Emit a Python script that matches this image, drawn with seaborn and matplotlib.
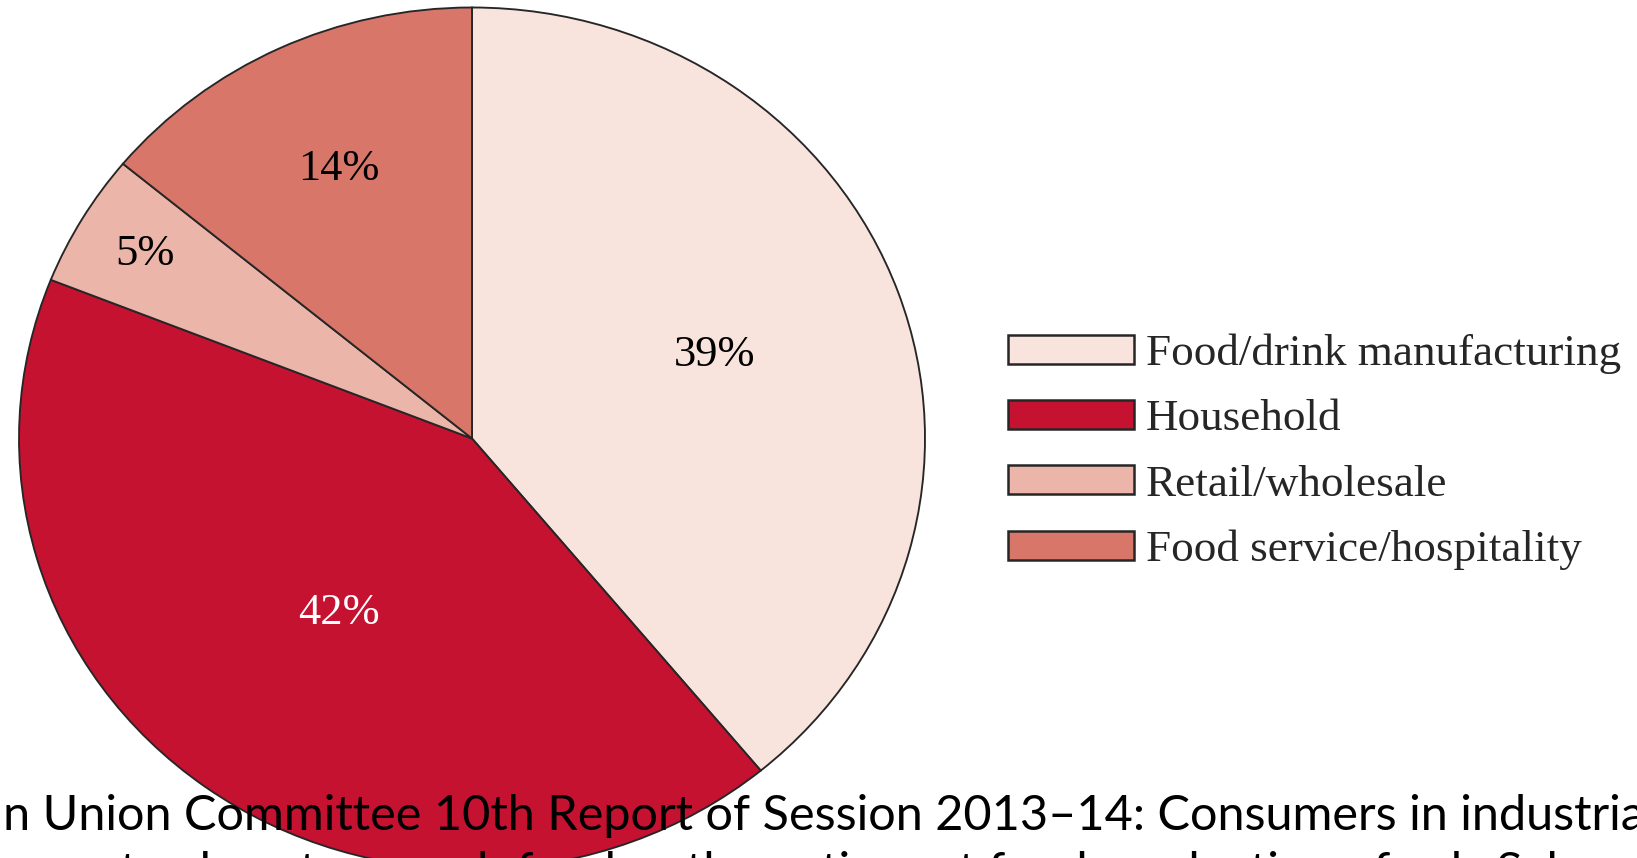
import matplotlib
matplotlib.use("Agg")
import matplotlib.pyplot as plt
import seaborn as sns
import numpy as np
from matplotlib.patches import Patch

# ---- data ----
categories = ["Food/drink manufacturing", "Household", "Retail/wholesale", "Food service/hospitality"]
shares = [39, 42, 5, 14]
caption_line1 = "European Union Committee 10th Report of Session 2013\u201314: Consumers in industrialised"
caption_line2 = "countries waste almost as much food as the entire net food production of sub-Saharan Africa"

# ---- style ----
colors = ["#F8E3DD", "#C41230", "#EBB5A9", "#D8766A"]
text_colors = ["black", "white", "black", "black"]
label_r = [0.57, 0.50, 0.84, 0.69]

sns.set_theme(style="white")
plt.rcParams["font.family"] = ["Liberation Serif", "DejaVu Serif"]

W, H = 1637, 858
fig = plt.figure(figsize=(W / 100, H / 100), dpi=100)
fig.patch.set_facecolor("white")

cx, cy, rx, ry = 472, 858 - 438.5, 453, 431
ax = fig.add_axes([(cx - rx) / W, (cy - ry) / H, 2 * rx / W, 2 * ry / H])

wedges, texts, autotexts = ax.pie(
    shares, colors=colors, startangle=90, counterclock=False,
    autopct="%.0f%%", radius=1,
    wedgeprops=dict(edgecolor="#262626", linewidth=1.35),
    textprops=dict(fontsize=32, family=["Liberation Serif", "DejaVu Serif"]),
)
ax.set_aspect("auto")
ax.set_xlim(-1, 1)
ax.set_ylim(-1, 1)
ax.axis("off")

for w, t, r, c in zip(wedges, autotexts, label_r, text_colors):
    mid = np.deg2rad((w.theta1 + w.theta2) / 2)
    t.set_position((r * np.cos(mid), r * np.sin(mid)))
    t.set_color(c)
    t.set_ha("center")
    t.set_va("center")

handles = [Patch(facecolor=c, edgecolor="#262626", linewidth=1.8) for c in colors]
leg = fig.legend(
    handles, categories, loc="center left",
    bbox_to_anchor=(1008 / W, (858 - 452) / H),
    frameon=False, borderpad=0, borderaxespad=0,
    handlelength=2.8, handleheight=0.62,
    handletextpad=0.25, labelspacing=0.56,
    prop=dict(family=["Liberation Serif", "DejaVu Serif"], size=32.5),
)

# caption (cut off at the figure edges, as in the reference)
cap_font = dict(fontsize=35, family=["Lato", "DejaVu Sans"])
renderer = fig.canvas.get_renderer()
probe = fig.text(0, 0, "Europea", **cap_font)
off = probe.get_window_extent(renderer).width
probe.remove()
fig.text((3 - off) / W, (858 - 830) / H, caption_line1, color="black",
         ha="left", va="baseline", **cap_font)
fig.text((3 - off) / W, (858 - 887) / H, caption_line2, color="black",
         ha="left", va="baseline", **cap_font)

fig.savefig("out.png", dpi=100, facecolor="white")
